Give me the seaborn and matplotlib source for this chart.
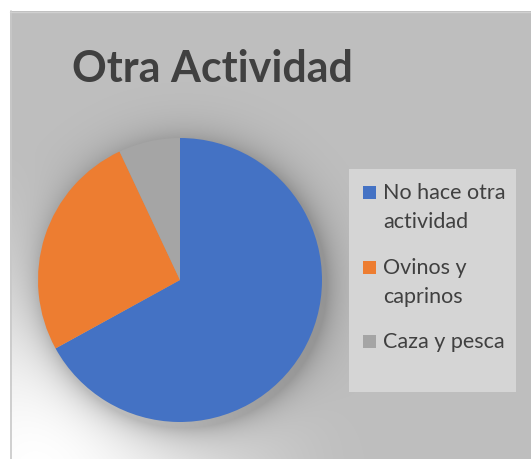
import numpy as np
import matplotlib
matplotlib.use("Agg")
import matplotlib.pyplot as plt
import seaborn as sns
from matplotlib.patches import Rectangle

# === Chart data ===
title = "Otra Actividad"
categories = ["No hace otra\nactividad", "Ovinos y\ncaprinos", "Caza y pesca"]
shares = [67, 26, 7]
colors = ["#4472C4", "#ED7D31", "#A5A5A5"]

sns.set_theme(style="white")
plt.rcParams["font.family"] = ["Lato", "DejaVu Sans"]

W, H = 531, 459
fig = plt.figure(figsize=(W / 100, H / 100), dpi=100)

# === Background: radial light gradient + soft pie shadow ===
yy, xx = np.mgrid[0:H, 0:W] + 0.5
t = np.clip(np.hypot(xx - 40, yy - 470) / 330, 0, 1)
t = t * t * (3 - 2 * t)
base = 255 - (255 - 191) * t
edge = np.hypot(xx - 184, yy - 285) - 143
base = base * (1 - 0.22 * np.exp(-np.clip(edge, 0, None) / 16))
base[:11, :] = 255
base[:, :10] = 255
img = np.dstack([base] * 3) / 255

bg = fig.add_axes([0, 0, 1, 1])
bg.imshow(img, extent=(0, W, H, 0), interpolation="bilinear")
bg.set_xlim(0, W)
bg.set_ylim(H, 0)
bg.axis("off")
bg.plot([10.5, 10.5], [11, H], color="#c8c8c8", lw=1.2)
bg.plot([10, W], [11.5, 11.5], color="#d0d0d0", lw=1.0)

# === Pie ===
cx, cy, r = 180, 280, 142
ax = fig.add_axes([(cx - r) / W, (H - cy - r) / H, 2 * r / W, 2 * r / H])
ax.pie(shares, colors=colors, startangle=90, counterclock=False,
       wedgeprops=dict(linewidth=0))
ax.set_xlim(-1, 1)
ax.set_ylim(-1, 1)
ax.patch.set_visible(False)

# === Title ===
fig.text(72 / W, 1 - 82 / H, title, fontsize=31, fontweight="bold",
         color="#404040", va="baseline", ha="left")

# === Legend (first line of each entry sits next to its square) ===
fig.patches.append(Rectangle((349 / W, 1 - 392 / H), 167 / W, 223 / H,
                             transform=fig.transFigure, facecolor="#d5d5d5",
                             edgecolor="none", zorder=1))
baselines = [199, 274, 348]
for label, col, yb in zip(categories, colors, baselines):
    fig.patches.append(Rectangle((363 / W, 1 - yb / H), 13 / W, 13 / H,
                                 transform=fig.transFigure, facecolor=col,
                                 edgecolor="none", zorder=2))
    for k, line in enumerate(label.split("\n")):
        fig.text(383 / W, 1 - (yb + 29 * k) / H, line, fontsize=15.5,
                 color="#404040", va="baseline", ha="left", zorder=3)

fig.savefig("out.png", dpi=100)
